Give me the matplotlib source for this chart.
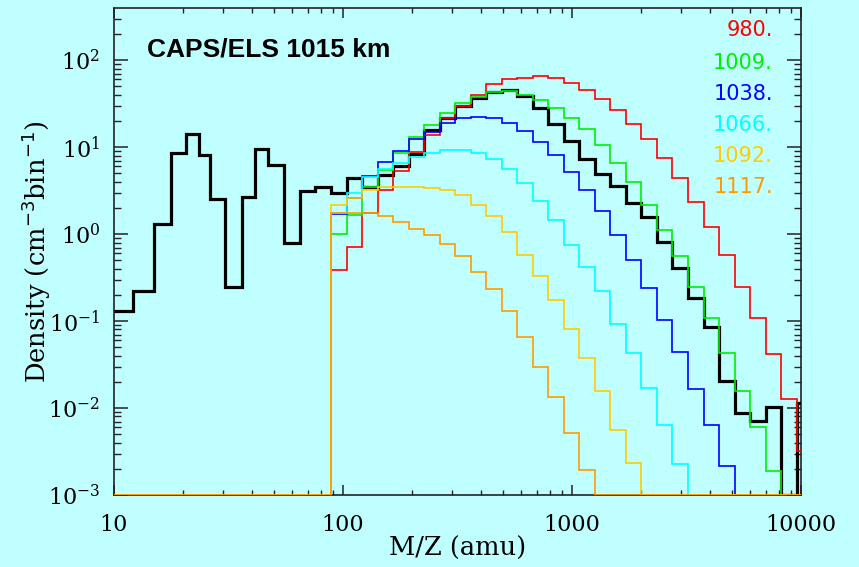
import numpy as np
import matplotlib
matplotlib.use("Agg")
import matplotlib.pyplot as plt
from matplotlib.ticker import FixedLocator, FuncFormatter, NullFormatter

# low-mass bins (reference spectrum only), amu
mz_edges_low = [10.0, 12.14, 15.0, 17.74, 20.63, 23.5, 26.26, 30.5, 36.1, 41.3, 47.2, 55.5, 64.9, 75.8]
dens_low = [0.131, 0.223, 1.29, 8.5, 14.1, 8.2, 2.52, 0.244, 2.64, 9.4, 6.2, 0.79, 3.1, 3.5]

# common energy grid above ~88 amu
mz_edges = [88.64, 103.6, 121.1, 141.6, 165.5, 193.4, 226.1, 264.3, 308.9, 361.1,
            422.0, 493.4, 576.7, 674.1, 787.9, 921.0, 1076.5, 1258.4, 1470.9, 1719.4,
            2009.8, 2349.3, 2746.0, 3209.8, 3752.0, 4385.6, 5126.4, 5992.2, 7004.2, 8187.2,
            9570.0, 11186.0]

dens_1015 = [3.0, 4.4, 3.5, 4.77, 6.1, 8.3, 15.8, 21.9, 29.8, 36.5,
             42.5, 45.2, 38.9, 27.9, 18.7, 11.7, 7.3, 4.9, 3.6, 2.25,
             1.58, 0.82, 0.41, 0.182, 0.086, 0.0206, 0.0088, 0.0071, 0.0104, 0.0,
             0.0113]

altitudes = ["980.", "1009.", "1038.", "1066.", "1092.", "1117."]
colors = ["#ff0000", "#00f000", "#0000ff", "#00ffff", "#ffcc00", "#ff9900"]

dens_980 = [0.386, 0.72, 1.75, 3.2, 5.3, 8.8, 13.7, 21.9, 29.8, 40.3,
            53.5, 60.0, 63.2, 65.5, 61.6, 54.8, 45.2, 35.6, 26.6, 18.7,
            12.3, 7.5, 4.37, 2.31, 1.2, 0.574, 0.248, 0.109, 0.0414, 0.0127,
            0.00323]
dens_1009 = [1.0, 1.67, 3.5, 5.4, 8.5, 13.0, 17.9, 24.7, 32.3, 37.9,
             43.2, 44.0, 40.3, 34.7, 28.3, 21.7, 16.0, 10.5, 6.5, 3.96,
             2.18, 1.11, 0.559, 0.244, 0.109, 0.0432, 0.0157, 0.006, 0.0019, 0.0,
             0.0]
dens_1038 = [1.7, 2.6, 4.7, 6.7, 9.1, 12.3, 15.0, 19.0, 21.5, 22.1,
             21.9, 19.0, 15.3, 11.5, 8.1, 5.2, 3.2, 1.85, 0.97, 0.51,
             0.238, 0.103, 0.0444, 0.0164, 0.0063, 0.00215, 0.0, 0.0, 0.0, 0.0,
             0.0]
dens_1066 = [1.75, 2.98, 4.49, 5.63, 6.6, 7.74, 8.6, 9.3, 9.3, 8.5,
             7.25, 5.54, 3.83, 2.42, 1.45, 0.75, 0.42, 0.22, 0.0925, 0.0426,
             0.0168, 0.0063, 0.0023, 0.0, 0.0, 0.0, 0.0, 0.0, 0.0, 0.0,
             0.0]
dens_1092 = [2.19, 2.57, 3.2, 3.5, 3.5, 3.5, 3.42, 3.2, 2.81, 2.19,
             1.61, 1.06, 0.58, 0.332, 0.177, 0.0817, 0.0372, 0.0158, 0.00559, 0.00231,
             0.0, 0.0, 0.0, 0.0, 0.0, 0.0, 0.0, 0.0, 0.0, 0.0,
             0.0]
dens_1117 = [1.76, 1.76, 1.76, 1.62, 1.39, 1.14, 0.975, 0.775, 0.556, 0.37,
             0.236, 0.13, 0.066, 0.0293, 0.0133, 0.00512, 0.00194, 0.0, 0.0, 0.0,
             0.0, 0.0, 0.0, 0.0, 0.0, 0.0, 0.0, 0.0, 0.0, 0.0,
             0.0]

bg = "#bfffff"
ymin, ymax = 1e-3, 10 ** 2.6

fig = plt.figure(figsize=(8.59, 5.67), dpi=100, facecolor=bg)
ax = fig.add_axes([114 / 859, 1 - 495 / 567, 687 / 859, 487 / 567], facecolor=bg)
ax.set_xscale("log")
ax.set_yscale("log")

# reference spectrum (thick black)
ref_edges = mz_edges_low + mz_edges
ref_vals = np.maximum(np.array(dens_low + dens_1015), ymin)
ax.stairs(ref_vals, ref_edges, baseline=None, color="black", lw=2.3, zorder=3)

# spectra at neighbouring altitudes, zero below the grid
series = [dens_980, dens_1009, dens_1038, dens_1066, dens_1092, dens_1117]
for vals, col in zip(series, colors):
    v = np.maximum(np.array([0.0] + vals), ymin)
    ax.stairs(v, [10.0] + mz_edges, baseline=None, color=col, lw=1.2, zorder=4)

ax.set_xlim(10, 10000)
ax.set_ylim(ymin, ymax)

serif = "DejaVu Serif"
plt.rcParams["mathtext.fontset"] = "dejavuserif"

ax.xaxis.set_major_locator(FixedLocator([10, 100, 1000, 10000]))
ax.xaxis.set_minor_locator(FixedLocator([m * 10 ** e for e in range(1, 4) for m in range(2, 10)]))
ax.xaxis.set_major_formatter(FuncFormatter(lambda v, p: f"{int(round(v))}"))
ax.xaxis.set_minor_formatter(NullFormatter())

ax.yaxis.set_major_locator(FixedLocator([10.0 ** e for e in range(-3, 3)]))
ax.yaxis.set_minor_locator(FixedLocator([m * 10.0 ** e for e in range(-3, 3) for m in range(2, 10)]))
ax.yaxis.set_major_formatter(FuncFormatter(lambda v, p: r"$\mathregular{10^{%d}}$" % int(round(np.log10(v)))))
ax.yaxis.set_minor_formatter(NullFormatter())

ax.tick_params(axis="both", which="both", direction="in", top=True, right=True,
               colors="#222222", labelcolor="black", labelsize=16)
ax.tick_params(axis="x", which="major", length=7.5, width=1.1, pad=14)
ax.tick_params(axis="x", which="minor", length=3.8, width=1.0)
ax.tick_params(axis="y", which="major", length=10, width=1.1, pad=10)
ax.tick_params(axis="y", which="minor", length=5, width=1.0)
for lab in ax.get_xticklabels() + ax.get_yticklabels():
    lab.set_family(serif)

for sp in ax.spines.values():
    sp.set_linewidth(1.2)
    sp.set_color("#222222")

ax.set_xlabel("M/Z (amu)", family=serif, fontsize=18.5)
ax.set_ylabel(r"Density (cm$^{-3}$bin$^{-1}$)", family=serif, fontsize=18.5)
ax.xaxis.set_label_coords(0.5, -0.084)
ax.yaxis.set_label_coords(-0.089, 0.5)

ax.text(0.048, 0.914, "CAPS/ELS 1015 km", transform=ax.transAxes, ha="left", va="center",
        family="Liberation Sans", fontweight="bold", fontsize=19)

label_y = [0.955, 0.887, 0.823, 0.760, 0.696, 0.632]
for txt, col, yy in zip(altitudes, colors, label_y):
    ax.text(0.959, yy, txt, transform=ax.transAxes, ha="right", va="center",
            color=col, fontsize=15, family="DejaVu Sans")

fig.savefig("out.png", dpi=100, facecolor=bg)
